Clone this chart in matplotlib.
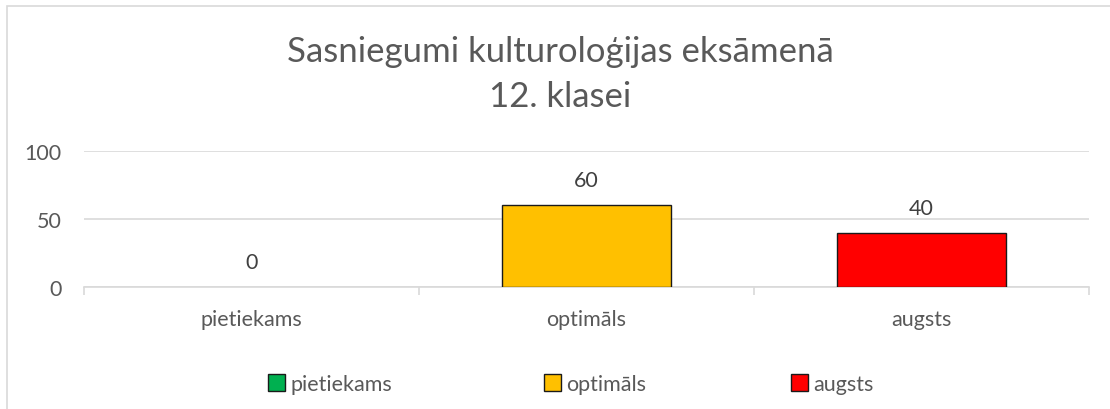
import matplotlib
matplotlib.use("Agg")
import matplotlib.pyplot as plt
from matplotlib.patches import Rectangle, Patch

categories = ["pietiekams", "optimāls", "augsts"]
values = [0, 60, 40]
colors = ["#00b050", "#ffc000", "#ff0000"]
yticks = [0, 50, 100]

GREY = "#595959"
GRID = "#d9d9d9"
plt.rcParams["font.family"] = ["Lato", "DejaVu Sans"]

W, H = 1110, 410
fig = plt.figure(figsize=(W / 100, H / 100), dpi=100)

# chart border (light grey frame, runs off right/bottom)
fig.patches.append(Rectangle((7 / W, -0.1), 1.2, (H - 7) / H + 0.1,
                             transform=fig.transFigure, fill=False,
                             edgecolor=GRID, lw=1.2))

ax = fig.add_axes([84 / W, 1 - 288 / H, (1089 - 84) / W, (288 - 152) / H])
x = range(len(categories))
ax.bar(x, values, width=0.505, color=colors, edgecolor="#1a1a1a",
       lw=[1.0 if v else 0 for v in values], zorder=3)
for xi, v in zip(x, values):
    ax.annotate(str(v), (xi, v), xytext=(0, 18), textcoords="offset points",
                ha="center", va="center", fontsize=15.5, color="#404040")

ax.set_xlim(-0.5, 2.5)
ax.set_ylim(0, 100)
ax.set_yticks(yticks)
ax.grid(axis="y", color=GRID, lw=1.2, zorder=0)
for s in ["top", "right", "left"]:
    ax.spines[s].set_visible(False)
ax.spines["bottom"].set_color(GRID)
ax.spines["bottom"].set_linewidth(1.2)
ax.set_xticks(list(x))
ax.set_xticklabels(categories)
ax.set_xticks([-0.5, 0.5, 1.5, 2.5], minor=True)
ax.tick_params(axis="x", which="major", length=0, pad=16, labelsize=15.5,
               labelcolor=GREY)
ax.tick_params(axis="x", which="minor", length=6, color=GRID, width=1.2)
ax.tick_params(axis="y", length=0, pad=16, labelsize=15.5, labelcolor=GREY)

fig.text(560 / W, 1 - 52 / H, "Sasniegumi kulturoloģijas eksāmenā",
         ha="center", va="center", fontsize=25, color=GREY)
fig.text(560 / W, 1 - 97 / H, "12. klasei",
         ha="center", va="center", fontsize=25, color=GREY)

# legend entries placed individually like the Excel legend
legend_x = [268, 544, 791]
for lx, cat, c in zip(legend_x, categories, colors):
    h = Patch(facecolor=c, edgecolor="#1a1a1a", lw=1.0)
    fig.legend([h], [cat], loc="center left",
               bbox_to_anchor=(lx / W, 1 - 385 / H), frameon=False,
               fontsize=15.5, labelcolor=GREY, borderpad=0, borderaxespad=0,
               handlelength=0.8, handleheight=0.8, handletextpad=0.25)

fig.savefig("out.png", dpi=100)
